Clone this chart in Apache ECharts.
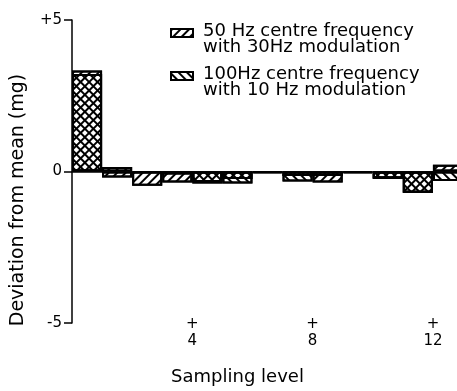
<!DOCTYPE html>
<html><head><meta charset="utf-8">
<script src="https://cdn.jsdelivr.net/npm/echarts@6/dist/echarts.min.js"></script>
<style>html,body{margin:0;padding:0;background:#fff}#c{width:457px;height:391px}</style>
</head><body><div id="c"></div>
<script>
var levels = ['1','2','3','4','5','6','7','8','9','10','11','12','13'];
var hz50 = [3.33, -0.2, -0.47, -0.36, -0.35, -0.25, -0.05, -0.15, -0.36, -0.05, -0.22, -0.7, 0.22];
var hz100 = [3.22, 0.15, -0.05, -0.1, -0.4, -0.4, -0.05, -0.33, -0.15, -0.05, -0.25, -0.7, -0.31];
var tickLevels = [4, 8, 12];
var seriesNames = ['50 Hz centre frequency\nwith 30Hz modulation', '100Hz centre frequency\nwith 10 Hz modulation'];

var FONT = 'DejaVu Sans';
function hatch(rot){
  return {symbol:'rect', symbolSize:1, color:'#000', backgroundColor:'rgba(0,0,0,0)',
    dashArrayX:[1,0], dashArrayY:[2,4], rotation:rot};
}
var chart = echarts.init(document.getElementById('c'), null, {renderer:'canvas'});
chart.setOption({
  animation:false,
  backgroundColor:'#fff',
  grid:{left:72, right:-6, top:20, bottom:68, containLabel:false, outerBoundsMode:'none'},
  legend:{
    orient:'vertical', left:165, top:17, itemWidth:22, itemHeight:8, itemGap:9,
    icon:'rect',
    formatter:function(n){var p=n.split('\n');return '{a|'+p[0]+'}\n{b|'+p[1]+'}';},
    textStyle:{fontFamily:FONT, fontSize:18, color:'#000', padding:[0,0,0,5],
      rich:{a:{fontFamily:FONT, fontSize:18, lineHeight:28, verticalAlign:'bottom', color:'#000'},
            b:{fontFamily:FONT, fontSize:18, lineHeight:14, color:'#000'}}},
    data:seriesNames
  },
  xAxis:[{
    type:'category', data:levels, boundaryGap:true,
    axisLine:{onZero:true, lineStyle:{color:'#000', width:1.5}},
    axisTick:{show:false}, axisLabel:{show:false}
  },{
    type:'value', min:0, max:13, interval:1, position:'bottom',
    axisLine:{show:false}, axisTick:{show:false}, splitLine:{show:false},
    axisLabel:{margin:-7, fontFamily:FONT, fontSize:15, lineHeight:17, color:'#000',
      formatter:function(v){return tickLevels.indexOf(v)>=0 ? '+\n'+v : '';}},
    name:'Sampling level', nameLocation:'middle', nameGap:45,
    nameTextStyle:{fontFamily:FONT, fontSize:18, color:'#000', padding:[0,60,0,0]}
  }],
  yAxis:{
    type:'value', min:-5, max:5, interval:5,
    axisLine:{show:true, lineStyle:{color:'#000', width:1.5}},
    axisTick:{show:true, inside:false, length:8, lineStyle:{color:'#000', width:1.5}},
    splitLine:{show:false},
    axisLabel:{margin:10, fontFamily:FONT, fontSize:15, color:'#000',
      formatter:function(v){return v>0?'+'+v:String(v);}},
    name:'Deviation from mean (mg)', nameLocation:'middle', nameGap:44,
    nameTextStyle:{fontFamily:FONT, fontSize:19, color:'#000', padding:[0,57,0,0]}
  },
  series:[{
    name:seriesNames[0], type:'bar', xAxisIndex:0, data:hz50, barWidth:'100%', barGap:'-100%',
    itemStyle:{color:'rgba(255,255,255,0)', borderColor:'#000', borderWidth:2, decal:hatch(-Math.PI/4)}
  },{
    name:seriesNames[1], type:'bar', xAxisIndex:0, data:hz100, barWidth:'100%', barGap:'-100%',
    itemStyle:{color:'rgba(255,255,255,0)', borderColor:'#000', borderWidth:2, decal:hatch(Math.PI/4)}
  }]
});
</script></body></html>
